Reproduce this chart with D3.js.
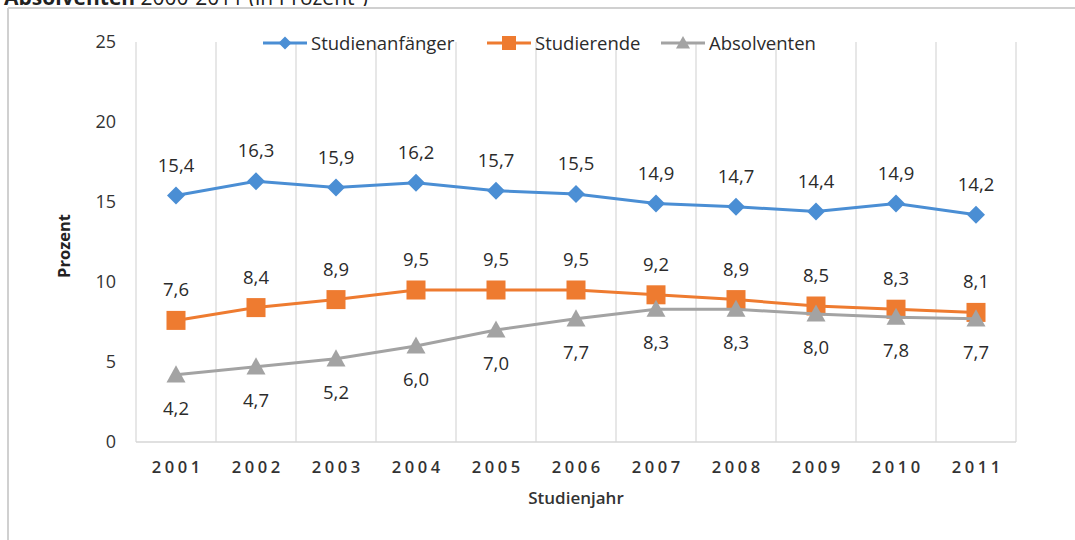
<!DOCTYPE html>
<html><head><meta charset="utf-8">
<script src="https://cdn.jsdelivr.net/npm/d3@7"></script>
<style>
body{margin:0;background:#fff;}
svg{display:block;font-family:"Open Sans",Lato,sans-serif;}
</style></head>
<body><svg id="c" width="1075" height="540"></svg>
<script>
const years = ["2001","2002","2003","2004","2005","2006","2007","2008","2009","2010","2011"];
const studienanfaenger = [15.4,16.3,15.9,16.2,15.7,15.5,14.9,14.7,14.4,14.9,14.2];
const studierende = [7.6,8.4,8.9,9.5,9.5,9.5,9.2,8.9,8.5,8.3,8.1];
const absolventen = [4.2,4.7,5.2,6.0,7.0,7.7,8.3,8.3,8.0,7.8,7.7];
const yTicks = [0,5,10,15,20,25];
const seriesNames = ["Studienanfänger","Studierende","Absolventen"];
const colors = ["#4a8ed4","#ee7b30","#a3a3a3"];
const FONT = "'Open Sans',Lato,sans-serif";

const svg = d3.select("#c");
const x = d3.scaleBand().domain(years).range([136,1016]).padding(0);
const y = d3.scaleLinear().domain([0,25]).range([442,42]);

// frame + title fragment (cut off at the top, as in the source)
svg.append("text").attr("x",4).attr("y",5).attr("font-size",21).attr("fill","#222")
  .html('<tspan font-weight="bold">Absolventen</tspan> 2000-2011 (in Prozent¹)');
svg.append("rect").attr("x",0).attr("y",6).attr("width",1075).attr("height",3).attr("fill","#fff");
svg.append("line").attr("x1",8).attr("x2",1075).attr("y1",8).attr("y2",8).attr("stroke","#d0d0d0").attr("stroke-width",2);
svg.append("line").attr("x1",8).attr("x2",8).attr("y1",8).attr("y2",540).attr("stroke","#d0d0d0").attr("stroke-width",2);

// vertical gridlines at category boundaries
const bounds = years.map(d=>x(d)).concat([x.range()[1]]);
svg.append("g").selectAll("line").data(bounds).join("line")
  .attr("x1",d=>d).attr("x2",d=>d).attr("y1",y(25)).attr("y2",y(0))
  .attr("stroke","#dadada").attr("stroke-width",1.3);
svg.append("line").attr("x1",x.range()[0]).attr("x2",x.range()[1]).attr("y1",y(0)).attr("y2",y(0))
  .attr("stroke","#d6d6d6").attr("stroke-width",1.5);

// y axis
const ya = svg.append("g").attr("transform","translate(116,0)")
  .call(d3.axisLeft(y).tickValues(yTicks).tickSize(0).tickPadding(0).tickFormat(d3.format("d")));
ya.select(".domain").remove();
ya.selectAll("text").attr("font-size",18).attr("fill","#333").attr("font-family",FONT);

// x axis
const xa = svg.append("g").attr("transform",`translate(0,${y(0)})`)
  .call(d3.axisBottom(x).tickSize(0).tickPadding(19));
xa.select(".domain").remove();
xa.selectAll("text").attr("font-size",16.5).attr("font-weight","600").attr("fill","#333")
  .attr("letter-spacing","3.6px").attr("font-family",FONT).attr("dx","1.8px");

// axis titles
svg.append("text").attr("x",576).attr("y",504).attr("text-anchor","middle")
  .attr("font-size",17).attr("font-weight","600").attr("fill","#333").text("Studienjahr");
svg.append("text").attr("transform","translate(70,246) rotate(-90)").attr("text-anchor","middle")
  .attr("font-size",16.5).attr("font-weight","bold").attr("fill","#222").text("Prozent");

const data = [studienanfaenger, studierende, absolventen];
const line = d3.line().x((d,i)=>x(years[i])+x.bandwidth()/2).y(d=>y(d));
const fmt = v => d3.format(".1f")(v).replace(".",",");

function marker(g, k, cx, cy, s){
  if(k===0){
    g.append("path").attr("d",`M${cx},${cy-s}L${cx+s},${cy}L${cx},${cy+s}L${cx-s},${cy}Z`).attr("fill",colors[0]);
  } else if(k===1){
    g.append("rect").attr("x",cx-s).attr("y",cy-s).attr("width",2*s).attr("height",2*s).attr("fill",colors[1]);
  } else {
    g.append("path").attr("d",`M${cx},${cy-s}L${cx+s},${cy+s*0.8}L${cx-s},${cy+s*0.8}Z`).attr("fill",colors[2]);
  }
}
const sizes = [9,9.5,9.5];

data.forEach((vals,k)=>{
  const g = svg.append("g");
  g.append("path").datum(vals).attr("d",line).attr("fill","none")
    .attr("stroke",colors[k]).attr("stroke-width",3);
  vals.forEach((v,i)=>{
    marker(g,k,x(years[i])+x.bandwidth()/2,y(v),sizes[k]);
  });
});
data.forEach((vals,k)=>{
  const g = svg.append("g");
  vals.forEach((v,i)=>{
    const cx = x(years[i])+x.bandwidth()/2;
    const dy = k===2 ? 40 : -24;
    g.append("text").attr("x",cx).attr("y",y(v)+dy).attr("text-anchor","middle")
      .attr("font-size",18.5).attr("fill","#2b2b2b").text(fmt(v));
  });
});

// legend
const legX = [263,487,661];
seriesNames.forEach((n,k)=>{
  const g = svg.append("g");
  const lx = legX[k], ly = 43;
  g.append("line").attr("x1",lx).attr("x2",lx+44).attr("y1",ly).attr("y2",ly)
    .attr("stroke",colors[k]).attr("stroke-width",3);
  marker(g,k,lx+22,ly,k===0?6.5:7);
  g.append("text").attr("x",lx+48).attr("y",ly+6.5).attr("font-size",18.5).attr("fill","#2b2b2b").text(n);
});
</script></body></html>
